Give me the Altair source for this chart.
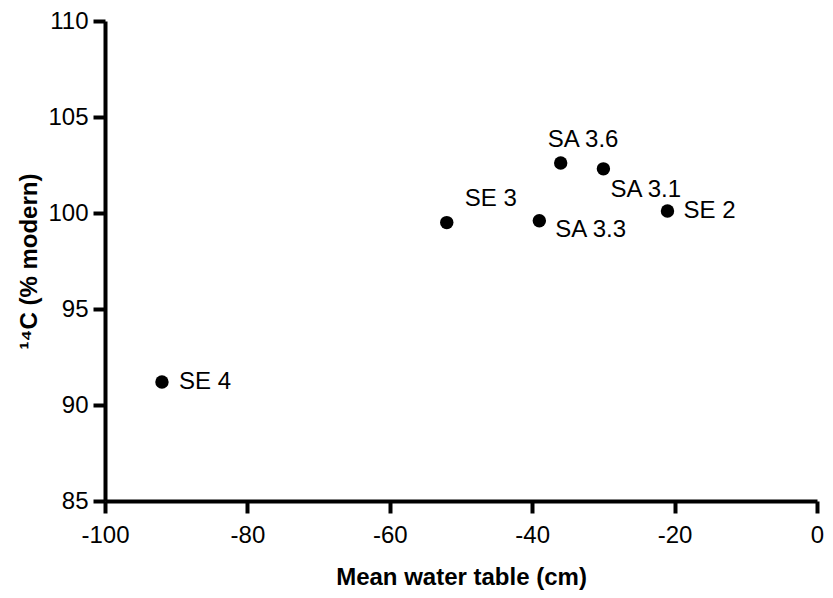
import altair as alt
import pandas as pd

# Data
names = ["SE 4", "SE 3", "SA 3.3", "SA 3.6", "SA 3.1", "SE 2"]
water_table = [-92, -52, -39, -36, -30, -21]
c14 = [91.2, 99.5, 99.6, 102.6, 102.3, 100.1]

x_ticks = [-100, -80, -60, -40, -20, 0]
y_ticks = [85, 90, 95, 100, 105, 110]

df = pd.DataFrame({"name": names, "x": water_table, "y": c14})

# label offsets (style): name -> (dx, dy)
label_offsets = {
    "SE 4": (17, 0),
    "SE 3": (18, -24),
    "SA 3.6": (-13, -23),
    "SA 3.1": (7, 21),
    "SA 3.3": (16, 9),
    "SE 2": (16, 0),
}

FONT = "Liberation Sans"

x_enc = alt.X(
    "x:Q",
    scale=alt.Scale(domain=[-100, 0], nice=False),
    axis=alt.Axis(
        title="Mean water table (cm)",
        values=x_ticks,
        labelExpr="toString(datum.value)",
        grid=False,
        domainColor="black",
        domainWidth=4,
        tickColor="black",
        tickWidth=4,
        tickSize=12,
        labelFontSize=24,
        labelFont=FONT,
        labelColor="black",
        labelPadding=10,
        labelFlush=False,
        titleFontSize=24,
        titleFont=FONT,
        titleFontWeight="bold",
        titleColor="black",
        titlePadding=18,
    ),
)
y_enc = alt.Y(
    "y:Q",
    scale=alt.Scale(domain=[85, 110], nice=False),
    axis=alt.Axis(
        title="¹⁴C (% modern)",
        values=y_ticks,
        grid=False,
        domainColor="black",
        domainWidth=4,
        tickColor="black",
        tickWidth=4,
        tickSize=12,
        labelFontSize=24,
        labelFont=FONT,
        labelColor="black",
        labelPadding=5,
        labelFlush=False,
        titleFontSize=24,
        titleFont=FONT,
        titleFontWeight="bold",
        titleColor="black",
        titlePadding=6,
    ),
)

base = alt.Chart(df)

points = base.mark_circle(size=180, color="black", opacity=1).encode(x=x_enc, y=y_enc)

layers = [points]
for nm, (dx, dy) in label_offsets.items():
    layers.append(
        base.transform_filter(alt.datum.name == nm)
        .mark_text(
            align="left",
            baseline="middle",
            dx=dx,
            dy=dy,
            fontSize=24,
            font=FONT,
            color="black",
        )
        .encode(x="x:Q", y="y:Q", text="name:N")
    )

chart = (
    alt.layer(*layers)
    .properties(
        width=712,
        height=480,
        autosize=alt.AutoSizeParams(type="none"),
        padding={"left": 97, "top": 13, "right": 7, "bottom": 95},
        background="white",
    )
    .configure_view(stroke=None)
)

chart.save("out.html", embed_options={"renderer": "svg", "actions": False})
